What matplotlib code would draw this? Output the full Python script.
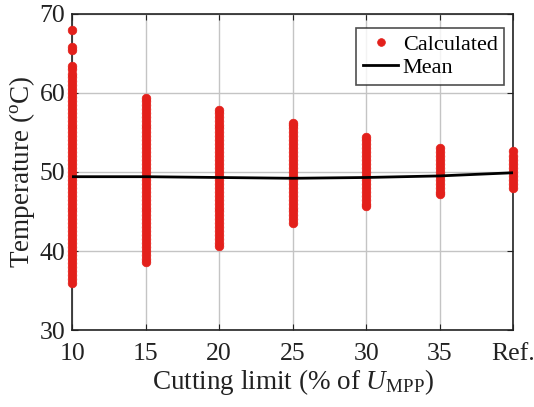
import matplotlib
matplotlib.use("Agg")
import matplotlib.pyplot as plt

plt.rcParams['font.family'] = ['Liberation Serif', 'DejaVu Serif']
plt.rcParams['mathtext.fontset'] = 'custom'
plt.rcParams['mathtext.rm'] = 'Liberation Serif'
plt.rcParams['mathtext.it'] = 'Liberation Serif:italic'

categories = ['10', '15', '20', '25', '30', '35', 'Ref.']

temps_10 = [36.0, 36.5, 37.0, 37.5, 38.0, 38.5, 39.0, 39.5, 40.0, 40.5, 41.0, 41.5,
            42.0, 42.5, 43.0, 43.5, 44.0, 44.5, 45.0, 45.5, 46.0, 46.5, 47.0, 47.5,
            48.0, 48.5, 49.0, 49.5, 50.0, 50.5, 51.0, 51.5, 52.0, 52.5, 53.0, 53.5,
            54.0, 54.5, 55.0, 55.5, 56.0, 56.5, 57.0, 57.5, 58.0, 58.5, 59.0, 59.5,
            60.0, 60.5, 61.0, 61.5, 62.0, 62.4, 63.0, 63.4, 65.4, 65.8, 68.0]
temps_15 = [38.6, 39.0, 39.5, 40.0, 40.5, 41.0, 41.5, 42.0, 42.5, 43.0, 43.5, 44.0,
            44.5, 45.0, 45.5, 46.0, 46.5, 47.0, 47.5, 48.0, 48.5, 49.0, 49.5, 50.0,
            50.5, 51.0, 51.5, 52.0, 52.5, 53.0, 53.5, 54.0, 54.5, 55.0, 55.5, 56.0,
            56.5, 57.0, 57.5, 58.0, 58.5, 59.0, 59.4]
temps_20 = [40.6, 41.0, 41.5, 42.0, 42.5, 43.0, 43.5, 44.0, 44.5, 45.0, 45.5, 46.0,
            46.5, 47.0, 47.5, 48.0, 48.5, 49.0, 49.5, 50.0, 50.5, 51.0, 51.5, 52.0,
            52.5, 53.0, 53.5, 54.0, 54.5, 55.0, 55.5, 56.0, 56.5, 57.0, 57.5, 57.9]
temps_25 = [43.6, 44.0, 44.5, 45.0, 45.5, 46.0, 46.5, 47.0, 47.5, 48.0, 48.5, 49.0,
            49.5, 50.0, 50.5, 51.0, 51.5, 52.0, 52.5, 53.0, 53.5, 54.0, 54.5, 55.0,
            55.5, 56.0, 56.2]
temps_30 = [45.7, 46.0, 46.5, 47.0, 47.5, 48.0, 48.5, 49.0, 49.5, 50.0, 50.5, 51.0,
            51.5, 52.0, 52.5, 53.0, 53.5, 54.0, 54.4]
temps_35 = [47.2, 47.5, 48.0, 48.5, 49.0, 49.5, 50.0, 50.5, 51.0, 51.5, 52.0, 52.5,
            53.0]
temps_ref = [48.0, 48.5, 49.0, 49.5, 50.0, 50.5, 51.0, 51.5, 52.0, 52.6]
all_temps = [temps_10, temps_15, temps_20, temps_25, temps_30, temps_35, temps_ref]

mean_temps = [49.4, 49.4, 49.3, 49.2, 49.3, 49.5, 49.9]

fig = plt.figure(figsize=(5.34, 4.07), dpi=100)
ax = fig.add_axes([0.135, 0.189, 0.826, 0.777])

red = '#e3201b'
xpos = list(range(1, len(categories) + 1))
for i, vals in enumerate(all_temps):
    ax.plot([xpos[i]] * len(vals), vals, linestyle='none', marker='o',
            markersize=6.2, markerfacecolor=red, markeredgecolor=red,
            markeredgewidth=0.5, clip_on=False, zorder=3,
            label='Calculated' if i == 0 else None)
ax.plot(xpos, mean_temps, color='black', linewidth=2, zorder=4, label='Mean')

ax.set_xlim(1, 7)
ax.set_ylim(30, 70)
ax.set_xticks(xpos)
ax.set_xticklabels(categories)
ax.set_yticks([30, 40, 50, 60, 70])
ax.grid(True, color='#c4c4c4', linewidth=1)
ax.set_axisbelow(True)
ax.tick_params(direction='in', top=True, right=True, labelsize=18.5, length=4,
               colors='#222222')
ax.tick_params(axis='x', pad=9)
ax.tick_params(axis='y', pad=5)
for s in ax.spines.values():
    s.set_linewidth(1.2)
    s.set_color('#222222')

ax.set_xlabel(r'Cutting limit (% of $U_{\mathrm{MPP}}$)', fontsize=19.5,
              labelpad=2, color='#222222')
ax.set_ylabel(r'Temperature ($^{\mathrm{o}}$C)', fontsize=19.5, labelpad=2,
              color='#222222')

h, l = ax.get_legend_handles_labels()
leg = ax.legend(h, l, loc='upper right', bbox_to_anchor=(0.99, 0.97),
                fontsize=16, frameon=True, fancybox=False, edgecolor='#222222',
                borderpad=0.3, handlelength=1.6, handletextpad=0.2,
                labelspacing=0.12, borderaxespad=0.2, markerscale=0.9)
leg.get_frame().set_linewidth(1.2)

fig.savefig('out.png', dpi=100)
